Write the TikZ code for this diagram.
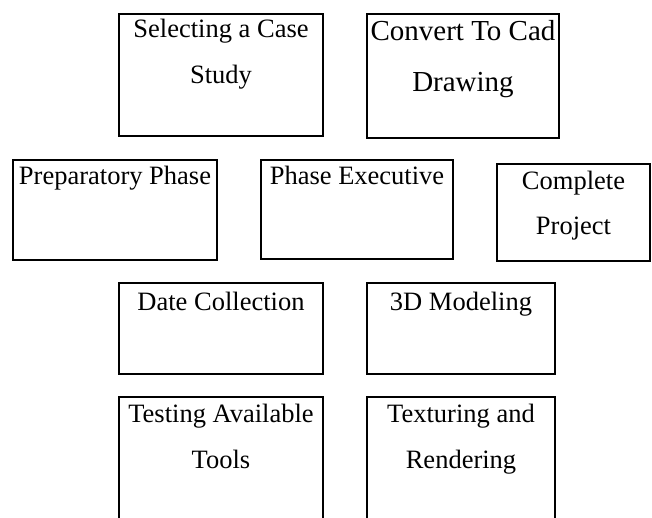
\documentclass[tikz,border=0pt]{standalone}
\usepackage{fontspec}
\setmainfont{Liberation Serif}
\begin{document}
\begin{tikzpicture}[x=1pt,y=-1pt,
  box/.style={draw=black, line width=1.7pt, rectangle, inner sep=0pt},
  txt/.style={anchor=base, inner sep=0pt, font=\fontsize{26.5}{30}\selectfont},
  bigtxt/.style={anchor=base, inner sep=0pt, font=\fontsize{29}{33}\selectfont}]
\useasboundingbox (0,0) rectangle (652,518);
\clip (0,0) rectangle (652,518);
% boxes
\node[box, minimum width=204pt, minimum height=122pt] (b1) at (221,75) {};
\node[box, minimum width=192pt, minimum height=124pt] (b2) at (463,76) {};
\node[box, minimum width=204pt, minimum height=100pt] (b3) at (115,210) {};
\node[box, minimum width=192pt, minimum height=99pt] (b4) at (357,209.5) {};
\node[box, minimum width=153pt, minimum height=97pt] (b5) at (573.5,212.5) {};
\node[box, minimum width=204pt, minimum height=91pt] (b6) at (221,328.5) {};
\node[box, minimum width=188pt, minimum height=91pt] (b7) at (461,328.5) {};
\node[box, minimum width=204pt, minimum height=143pt] (b8) at (221,468.5) {};
\node[box, minimum width=188pt, minimum height=143pt] (b9) at (461,468.5) {};
% texts
\node[txt] (t1a) at (221,38) {Selecting a Case};
\node[txt] (t1b) at (221,84) {Study};
\node[bigtxt] (t2a) at (463,41) {Convert To Cad};
\node[bigtxt] (t2b) at (463,91.5) {Drawing};
\node[txt] (t3) at (115,185) {Preparatory Phase};
\node[txt] (t4) at (357,185) {Phase Executive};
\node[txt] (t5a) at (573.5,190) {Complete};
\node[txt] (t5b) at (573.5,235) {Project};
\node[txt] (t6) at (221,310) {Date Collection};
\node[txt] (t7) at (461,310) {3D Modeling};
\node[txt] (t8a) at (221,422) {Testing Available};
\node[txt] (t8b) at (221,468) {Tools};
\node[txt] (t9a) at (461,422) {Texturing and};
\node[txt] (t9b) at (461,468) {Rendering};
\end{tikzpicture}
\end{document}
